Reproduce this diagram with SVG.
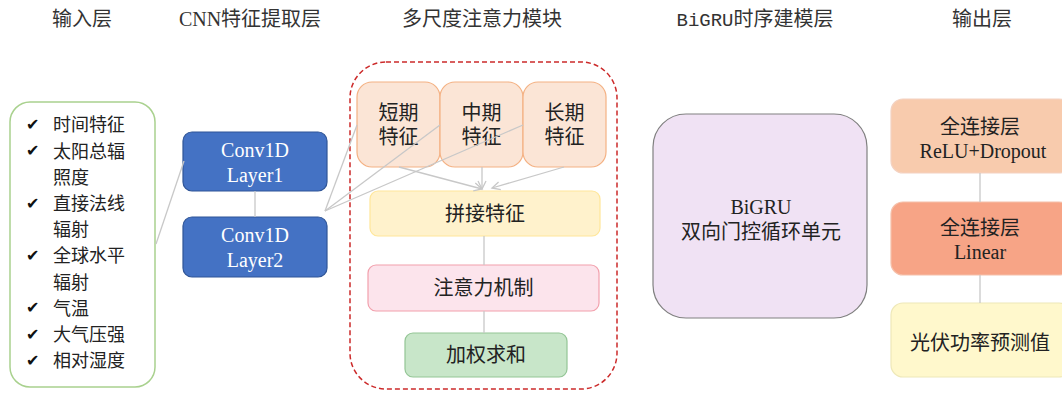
<svg xmlns="http://www.w3.org/2000/svg" width="1062" height="394" viewBox="0 0 1062 394">
<defs>
<style>
.hdr{font-family:"Liberation Serif","Noto Sans CJK SC",serif;font-size:20px;fill:#333;text-anchor:middle}
.mono{font-family:"Liberation Mono","Noto Sans CJK SC",monospace}
.t{font-family:"Liberation Serif","Noto Sans CJK SC",serif;font-size:20px;fill:#222;text-anchor:middle}
.tl{font-family:"Noto Sans CJK SC",sans-serif;font-size:18px;fill:#222}
.ck{font-family:"DejaVu Sans",sans-serif;font-size:16px;fill:#111}
.w{fill:#fff}
.cn{stroke:#c8c8c8;stroke-width:1.3;fill:none}
.peach{fill:#fbe5d6;stroke:#f4b183;stroke-width:1.2}
</style>
<marker id="arr" markerWidth="12" markerHeight="12" refX="9" refY="5" orient="auto" markerUnits="userSpaceOnUse">
<polyline points="1,1 9,5 1,9" fill="none" stroke="#c8c8c8" stroke-width="1.3"/>
</marker>
</defs>
<rect width="1062" height="394" fill="#fff"/>

<g id="headers">
<text class="hdr" x="82" y="26">输入层</text>
<text class="hdr" x="250" y="26">CNN特征提取层</text>
<text class="hdr" x="482" y="26">多尺度注意力模块</text>
<text class="hdr" x="755" y="26"><tspan class="mono" font-size="19">BiGRU</tspan>时序建模层</text>
<text class="hdr" x="982" y="26">输出层</text>
</g>

<g id="module-frame">
<rect x="350" y="62" width="267" height="327" rx="36" fill="none" stroke="#cc2a2a" stroke-width="1.5" stroke-dasharray="5,3"/>
</g>

<g id="input">
<rect x="10" y="102" width="145" height="285" rx="20" fill="#fff" stroke="#a9d18e" stroke-width="1.5"/>
<text class="ck" x="26" y="130">✔</text><text class="tl" x="53" y="131.3">时间特征</text>
<text class="ck" x="26" y="156.2">✔</text><text class="tl" x="53" y="157.5">太阳总辐</text>
<text class="tl" x="53" y="183.7">照度</text>
<text class="ck" x="26" y="208.6">✔</text><text class="tl" x="53" y="209.9">直接法线</text>
<text class="tl" x="53" y="236.1">辐射</text>
<text class="ck" x="26" y="261">✔</text><text class="tl" x="53" y="262.3">全球水平</text>
<text class="tl" x="53" y="288.5">辐射</text>
<text class="ck" x="26" y="313.4">✔</text><text class="tl" x="53" y="314.7">气温</text>
<text class="ck" x="26" y="339.6">✔</text><text class="tl" x="53" y="340.9">大气压强</text>
<text class="ck" x="26" y="365.8">✔</text><text class="tl" x="53" y="367.1">相对湿度</text>
</g>

<g id="conv1">
<rect x="183" y="132" width="144" height="59" rx="9" fill="#4472c4" stroke="#2f5597" stroke-width="1.2"/>
<text class="t w" x="255" y="157">Conv1D</text>
<text class="t w" x="255" y="182">Layer1</text>
</g>
<g id="conv2">
<rect x="183" y="217" width="144" height="60" rx="9" fill="#4472c4" stroke="#2f5597" stroke-width="1.2"/>
<text class="t w" x="255" y="242">Conv1D</text>
<text class="t w" x="255" y="267">Layer2</text>
</g>

<g id="short">
<rect class="peach" x="357" y="82" width="83" height="85" rx="15"/>
<text class="t" x="398.5" y="120">短期</text>
<text class="t" x="398.5" y="144">特征</text>
</g>
<g id="mid">
<rect class="peach" x="440" y="82" width="83" height="85" rx="15"/>
<text class="t" x="481.5" y="120">中期</text>
<text class="t" x="481.5" y="144">特征</text>
</g>
<g id="long">
<rect class="peach" x="523" y="82" width="83" height="85" rx="15"/>
<text class="t" x="564.5" y="120">长期</text>
<text class="t" x="564.5" y="144">特征</text>
</g>

<g id="concat">
<rect x="370" y="191" width="230" height="45" rx="8" fill="#fff2cc" stroke="#ffe699" stroke-width="1.2"/>
<text class="t" x="485" y="221">拼接特征</text>
</g>
<g id="attention">
<rect x="368" y="265" width="231" height="46" rx="8" fill="#fce4ec" stroke="#f2a0ac" stroke-width="1.2"/>
<text class="t" x="483.5" y="295">注意力机制</text>
</g>
<g id="wsum">
<rect x="405" y="333" width="162" height="44" rx="8" fill="#c8e6c9" stroke="#93c595" stroke-width="1.2"/>
<text class="t" x="486" y="362">加权求和</text>
</g>

<g id="bigru">
<rect x="653" y="114" width="214" height="204" rx="33" fill="#f0e2f4" stroke="#808080" stroke-width="1.2"/>
<text class="t" x="761" y="214">BiGRU</text>
<text class="t" x="761" y="239">双向门控循环单元</text>
</g>

<g id="fc1">
<rect x="891" y="99" width="180" height="74" rx="12" fill="#f8cbad" stroke="#f3d2c2" stroke-width="1.2"/>
<text class="t" x="980" y="134">全连接层</text>
<text class="t" x="983" y="158" font-size="21">ReLU+Dropout</text>
</g>
<g id="fc2">
<rect x="891" y="202" width="180" height="73" rx="12" fill="#f7a486" stroke="#f5c0aa" stroke-width="1.2"/>
<text class="t" x="980" y="235">全连接层</text>
<text class="t" x="980" y="259">Linear</text>
</g>
<g id="output">
<rect x="891" y="303" width="180" height="74" rx="12" fill="#fff8cc" stroke="#eee8b8" stroke-width="1.2"/>
<text class="t" x="980" y="350">光伏功率预测值</text>
</g>

<g id="connectors">
<line class="cn" x1="156" y1="244" x2="184" y2="161"/>
<line class="cn" x1="255" y1="191" x2="255" y2="217"/>
<line class="cn" x1="325" y1="211" x2="357" y2="125"/>
<line class="cn" x1="325" y1="211" x2="440" y2="125"/>
<line class="cn" x1="325" y1="211" x2="523" y2="125"/>
<line class="cn" x1="399" y1="167" x2="482" y2="189" marker-end="url(#arr)"/>
<line class="cn" x1="482" y1="167" x2="482" y2="189" marker-end="url(#arr)"/>
<line class="cn" x1="564" y1="167" x2="492" y2="188" marker-end="url(#arr)"/>
<line class="cn" x1="484" y1="236" x2="484" y2="265"/>
<line class="cn" x1="484" y1="311" x2="484" y2="333"/>
<line class="cn" x1="980" y1="173" x2="980" y2="202"/>
<line class="cn" x1="980" y1="275" x2="980" y2="303"/>
</g>
</svg>
